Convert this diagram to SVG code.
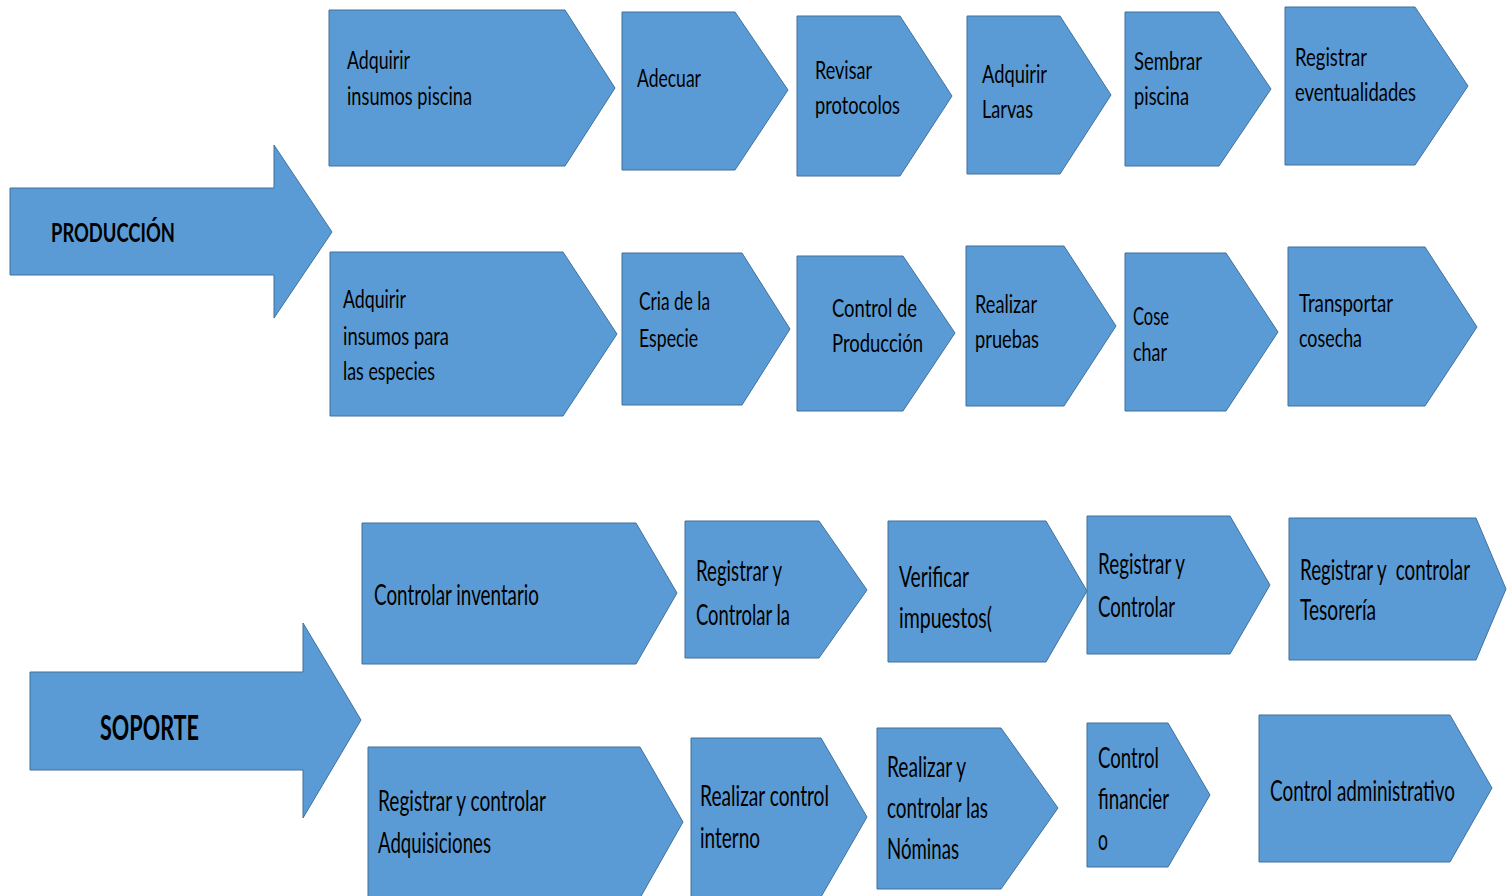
<svg xmlns="http://www.w3.org/2000/svg" width="1507" height="896" viewBox="0 0 1507 896">
  <style>
    .shape { fill: #5B9BD5; stroke: #41719C; stroke-width: 1; }
    .lbl { font-family: Lato, "Open Sans", "Liberation Sans", sans-serif; fill: #000; white-space: pre; }
    .p { font-size: 25px; }
    .s { font-size: 28px; }
    .head { font-family: Lato, "Open Sans", "Liberation Sans", sans-serif; font-weight: bold; fill: #000; }
  </style>
  <rect width="1507" height="896" fill="#fff"/>

  <!-- Producción block -->
  <g id="produccion">
    <polygon class="shape" points="10,188 274,188 274,145 332,232 274,318 274,275 10,275"/>
    <text class="head" x="51" y="242" font-size="27" textLength="124" lengthAdjust="spacingAndGlyphs">PRODUCCIÓN</text>
  </g>

  <g id="adquirir-insumos-piscina">
    <polygon class="shape" points="329,10 565,10 615,88 565,166 329,166"/>
    <text class="lbl p" x="347" y="69" textLength="63" lengthAdjust="spacingAndGlyphs">Adquirir</text>
    <text class="lbl p" x="347" y="105" textLength="125" lengthAdjust="spacingAndGlyphs">insumos piscina</text>
  </g>
  <g id="adecuar">
    <polygon class="shape" points="622,12 735,12 788,90 735,170 622,170"/>
    <text class="lbl p" x="637" y="87" textLength="64" lengthAdjust="spacingAndGlyphs">Adecuar</text>
  </g>
  <g id="revisar-protocolos">
    <polygon class="shape" points="797,16 900,16 952,96 900,176 797,176"/>
    <text class="lbl p" x="815" y="79" textLength="57" lengthAdjust="spacingAndGlyphs">Revisar</text>
    <text class="lbl p" x="815" y="114" textLength="85" lengthAdjust="spacingAndGlyphs">protocolos</text>
  </g>
  <g id="adquirir-larvas">
    <polygon class="shape" points="967,16 1060,16 1111,95 1060,174 967,174"/>
    <text class="lbl p" x="982" y="83" textLength="65" lengthAdjust="spacingAndGlyphs">Adquirir</text>
    <text class="lbl p" x="982" y="118" textLength="51" lengthAdjust="spacingAndGlyphs">Larvas</text>
  </g>
  <g id="sembrar-piscina">
    <polygon class="shape" points="1125,12 1219,12 1271,89 1219,166 1125,166"/>
    <text class="lbl p" x="1134" y="70" textLength="68" lengthAdjust="spacingAndGlyphs">Sembrar</text>
    <text class="lbl p" x="1134" y="105" textLength="55" lengthAdjust="spacingAndGlyphs">piscina</text>
  </g>
  <g id="registrar-eventualidades">
    <polygon class="shape" points="1285,7 1415,7 1468,86 1415,165 1285,165"/>
    <text class="lbl p" x="1295" y="66" textLength="72" lengthAdjust="spacingAndGlyphs">Registrar</text>
    <text class="lbl p" x="1295" y="101" textLength="121" lengthAdjust="spacingAndGlyphs">eventualidades</text>
  </g>

  <g id="adquirir-insumos-especies">
    <polygon class="shape" points="330,252 563,252 617,334 563,416 330,416"/>
    <text class="lbl p" x="343" y="308" textLength="63" lengthAdjust="spacingAndGlyphs">Adquirir</text>
    <text class="lbl p" x="343" y="345" textLength="106" lengthAdjust="spacingAndGlyphs">insumos para</text>
    <text class="lbl p" x="343" y="380" textLength="92" lengthAdjust="spacingAndGlyphs">las especies</text>
  </g>
  <g id="cria-especie">
    <polygon class="shape" points="622,253 742,253 790,329 742,405 622,405"/>
    <text class="lbl p" x="639" y="310" textLength="71" lengthAdjust="spacingAndGlyphs">Cria de la</text>
    <text class="lbl p" x="639" y="347" textLength="59" lengthAdjust="spacingAndGlyphs">Especie</text>
  </g>
  <g id="control-produccion">
    <polygon class="shape" points="797,256 903,256 955,333 903,411 797,411"/>
    <text class="lbl p" x="832" y="317" textLength="85" lengthAdjust="spacingAndGlyphs">Control de</text>
    <text class="lbl p" x="832" y="352" textLength="91" lengthAdjust="spacingAndGlyphs">Producción</text>
  </g>
  <g id="realizar-pruebas">
    <polygon class="shape" points="966,246 1064,246 1116,326 1064,406 966,406"/>
    <text class="lbl p" x="975" y="313" textLength="62" lengthAdjust="spacingAndGlyphs">Realizar</text>
    <text class="lbl p" x="975" y="348" textLength="64" lengthAdjust="spacingAndGlyphs">pruebas</text>
  </g>
  <g id="cosechar">
    <polygon class="shape" points="1125,253 1226,253 1278,332 1226,411 1125,411"/>
    <text class="lbl p" x="1133" y="325" textLength="36" lengthAdjust="spacingAndGlyphs">Cose</text>
    <text class="lbl p" x="1133" y="361" textLength="34" lengthAdjust="spacingAndGlyphs">char</text>
  </g>
  <g id="transportar-cosecha">
    <polygon class="shape" points="1288,247 1425,247 1477,327 1425,406 1288,406"/>
    <text class="lbl p" x="1299" y="312" textLength="94" lengthAdjust="spacingAndGlyphs">Transportar</text>
    <text class="lbl p" x="1299" y="347" textLength="63" lengthAdjust="spacingAndGlyphs">cosecha</text>
  </g>

  <!-- Soporte block -->
  <g id="soporte">
    <polygon class="shape" points="30,672 303,672 303,623 361,720 303,818 303,770 30,770"/>
    <text class="head" x="100" y="740" font-size="35" textLength="99" lengthAdjust="spacingAndGlyphs">SOPORTE</text>
  </g>

  <g id="controlar-inventario">
    <polygon class="shape" points="362,523 636,523 677,593 636,664 362,664"/>
    <text class="lbl s" x="374" y="605" textLength="165" lengthAdjust="spacingAndGlyphs">Controlar inventario</text>
  </g>
  <g id="registrar-controlar-la">
    <polygon class="shape" points="685,521 819,521 867,590 819,658 685,658"/>
    <text class="lbl s" x="696" y="581" textLength="86" lengthAdjust="spacingAndGlyphs">Registrar y</text>
    <text class="lbl s" x="696" y="625" textLength="94" lengthAdjust="spacingAndGlyphs">Controlar la</text>
  </g>
  <g id="verificar-impuestos">
    <polygon class="shape" points="888,521 1046,521 1087,591 1046,662 888,662"/>
    <text class="lbl s" x="899" y="587" textLength="70" lengthAdjust="spacingAndGlyphs">Verificar</text>
    <text class="lbl s" x="899" y="628" textLength="93" lengthAdjust="spacingAndGlyphs">impuestos(</text>
  </g>
  <g id="registrar-controlar">
    <polygon class="shape" points="1087,516 1230,516 1270,585 1230,654 1087,654"/>
    <text class="lbl s" x="1098" y="574" textLength="87" lengthAdjust="spacingAndGlyphs">Registrar y</text>
    <text class="lbl s" x="1098" y="617" textLength="77" lengthAdjust="spacingAndGlyphs">Controlar</text>
  </g>
  <g id="registrar-controlar-tesoreria">
    <polygon class="shape" points="1289,518 1476,518 1506,589 1476,660 1289,660"/>
    <!-- long line condensed by a horizontal scale so it stays inside the chevron -->
    <text class="lbl s" transform="translate(1300,580) scale(0.671,1)">Registrar y  controlar</text>
    <text class="lbl s" x="1300" y="620" textLength="76" lengthAdjust="spacingAndGlyphs">Tesorería</text>
  </g>

  <g id="registrar-controlar-adquisiciones">
    <polygon class="shape" points="368,747 640,747 683,822 640,898 368,898"/>
    <text class="lbl s" x="378" y="811" textLength="168" lengthAdjust="spacingAndGlyphs">Registrar y controlar</text>
    <text class="lbl s" x="378" y="853" textLength="113" lengthAdjust="spacingAndGlyphs">Adquisiciones</text>
  </g>
  <g id="realizar-control-interno">
    <polygon class="shape" points="691,738 821,738 867,817 821,897 691,897"/>
    <text class="lbl s" x="700" y="806" textLength="129" lengthAdjust="spacingAndGlyphs">Realizar control</text>
    <text class="lbl s" x="700" y="848" textLength="60" lengthAdjust="spacingAndGlyphs">interno</text>
  </g>
  <g id="realizar-controlar-nominas">
    <polygon class="shape" points="877,728 1001,728 1058,808 1001,889 877,889"/>
    <text class="lbl s" x="887" y="777" textLength="79" lengthAdjust="spacingAndGlyphs">Realizar y</text>
    <text class="lbl s" x="887" y="818" textLength="101" lengthAdjust="spacingAndGlyphs">controlar las</text>
    <text class="lbl s" x="887" y="859" textLength="72" lengthAdjust="spacingAndGlyphs">Nóminas</text>
  </g>
  <g id="control-financiero">
    <polygon class="shape" points="1087,723 1168,723 1210,795 1168,867 1087,867"/>
    <text class="lbl s" x="1098" y="768" textLength="61" lengthAdjust="spacingAndGlyphs">Control</text>
    <text class="lbl s" x="1098" y="809" textLength="71" lengthAdjust="spacingAndGlyphs">financier</text>
    <text class="lbl s" x="1098" y="850" textLength="10" lengthAdjust="spacingAndGlyphs">o</text>
  </g>
  <g id="control-administrativo">
    <polygon class="shape" points="1259,715 1450,715 1492,788 1450,862 1259,862"/>
    <text class="lbl s" transform="translate(1270,801) scale(0.676,1)">Control administrativo</text>
  </g>

  <!-- No connecting lines: the chevrons themselves carry the flow -->
  <g id="connectors"/>
</svg>
